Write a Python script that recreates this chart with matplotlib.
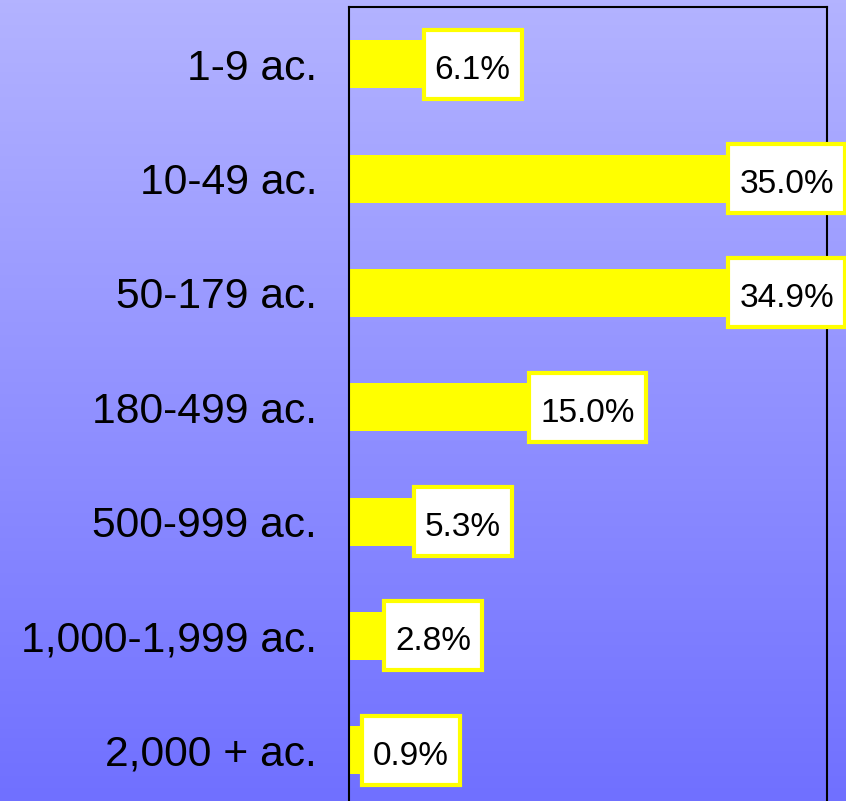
import matplotlib.pyplot as plt
import numpy as np
from matplotlib.colors import LinearSegmentedColormap
from matplotlib.patches import Rectangle

categories = ["1-9 ac.", "10-49 ac.", "50-179 ac.", "180-499 ac.",
              "500-999 ac.", "1,000-1,999 ac.", "2,000 + ac."]
shares = [6.1, 35.0, 34.9, 15.0, 5.3, 2.8, 0.9]
value_labels = ["6.1%", "35.0%", "34.9%", "15.0%", "5.3%", "2.8%", "0.9%"]

plt.rcParams['font.family'] = ['Liberation Sans', 'DejaVu Sans']

fig = plt.figure(figsize=(8.46, 8.01), dpi=100)

# gradient background over the whole figure
bg = fig.add_axes([0, 0, 1, 1], zorder=-10)
grad = np.linspace(0, 1, 256).reshape(-1, 1)
cmap = LinearSegmentedColormap.from_list("bg", ["#b3b3ff", "#7070ff"])
bg.imshow(grad, aspect='auto', cmap=cmap, extent=[0, 1, 0, 1], origin='upper')
bg.axis('off')

ax = fig.add_axes([0.4125, 0.0, 0.565, 0.991])
ax.patch.set_alpha(0)
y = np.arange(len(categories))
ax.barh(y, shares, height=0.42, color="#ffff00", zorder=2)

ax.set_xlim(0, 40.2)
ax.set_ylim(6.445, -0.5)
ax.set_yticks(y)
ax.set_yticklabels(categories, fontsize=30.7)
ax.tick_params(axis='y', length=0, pad=23)
ax.set_xticks([])
for s in ['left', 'top', 'right']:
    ax.spines[s].set_linewidth(1.5)
    ax.spines[s].set_color('black')
ax.spines['bottom'].set_visible(False)

# value labels: white boxes with yellow border next to the bar ends
renderer = fig.canvas.get_renderer()
px_per_x = ax.bbox.width / 40.2
px_per_y = ax.bbox.height / (6.445 + 0.5)
fig_right = (fig.bbox.width - 1 - ax.bbox.x0) / px_per_x
box_h = 69 / px_per_y
for yi, v, lab in zip(y, shares, value_labels):
    t = ax.text(0, yi, lab, fontsize=24, ha='center', va='baseline', zorder=4)
    w = t.get_window_extent(renderer).width
    bw = (w + 22) / px_per_x
    left = min(v + 2 / px_per_x, fig_right - bw)
    ax.add_patch(Rectangle((left, yi - box_h / 2), bw, box_h, facecolor='white',
                           edgecolor='#ffff00', linewidth=3, zorder=3, clip_on=False))
    t.set_position((left + bw / 2, yi + 14.5 / px_per_y))
    t.set_clip_on(False)

fig.savefig("out.png", dpi=100)
